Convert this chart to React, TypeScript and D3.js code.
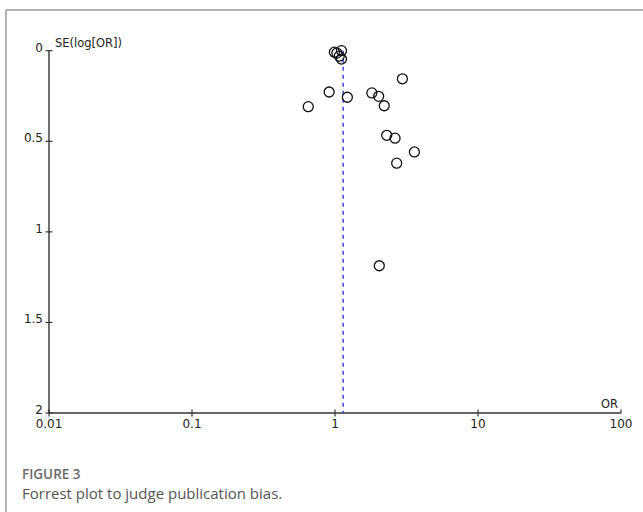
import React from "react";
import * as d3 from "d3";

const orValues = [1.11, 0.99, 1.03, 1.07, 1.11, 2.96, 0.91, 1.22, 1.81, 2.02, 0.65, 2.21, 2.3, 2.63, 3.59, 2.7, 2.04];
const seValues = [0.0, 0.008, 0.013, 0.03, 0.046, 0.155, 0.228, 0.257, 0.233, 0.252, 0.309, 0.304, 0.467, 0.483, 0.559, 0.621, 1.187];
const xTicks = [0.01, 0.1, 1, 10, 100];
const xTickLabels = ["0.01", "0.1", "1", "10", "100"];
const yTicks = [0, 0.5, 1, 1.5, 2];
const yTickLabels = ["0", "0.5", "1", "1.5", "2"];
const pooledOR = 1.14;

export default function App() {
  const W = 643, H = 512;
  const x = d3.scaleLog().domain([0.01, 100]).range([49, 621]);
  const y = d3.scaleLinear().domain([0, 2]).range([50.7, 413]);
  const axisColor = "#333";
  const font = "DejaVu Sans, sans-serif";
  return (
    <svg width={W} height={H} style={{ position: "absolute", left: 0, top: 0, background: "#fff" }}>
      <line x1={6} y1={10} x2={W} y2={10} stroke="#9a9a9a" strokeWidth={1.5} />
      <line x1={6} y1={10} x2={6} y2={H} stroke="#9a9a9a" strokeWidth={1.5} />
      {/* y axis */}
      <line x1={x(0.01)} y1={y(0)} x2={x(0.01)} y2={y(2)} stroke={axisColor} strokeWidth={1.4} />
      {yTicks.map((t, i) => (
        <g key={"y" + i}>
          <line x1={x(0.01) - 3.5} x2={x(0.01) + 3.5} y1={y(t)} y2={y(t)} stroke={axisColor} strokeWidth={1.2} />
          <text x={x(0.01) - 6} y={y(t) + 1} textAnchor="end" fontFamily={font} fontSize={12} fill="#222">
            {yTickLabels[i]}
          </text>
        </g>
      ))}
      {/* x axis */}
      <line x1={x(0.01)} y1={y(2)} x2={x(100)} y2={y(2)} stroke={axisColor} strokeWidth={1.4} />
      {xTicks.map((t, i) => (
        <g key={"x" + i}>
          <line x1={x(t)} x2={x(t)} y1={y(2) - 3.5} y2={y(2) + (i === xTicks.length - 1 ? 0 : 3.5)} stroke={axisColor} strokeWidth={1.2} />
          <text x={x(t)} y={y(2) + 15} textAnchor="middle" fontFamily={font} fontSize={12} fill="#222">
            {xTickLabels[i]}
          </text>
        </g>
      ))}
      <text x={618} y={y(2) - 5} textAnchor="end" fontFamily={font} fontSize={11.5} fill="#222">OR</text>
      <text x={55} y={y(0) - 4} fontFamily={font} fontSize={11.5} fill="#222">SE(log[OR])</text>
      {/* pooled line */}
      <line x1={x(pooledOR)} x2={x(pooledOR)} y1={y(0)} y2={y(2)} stroke="#2b2bd6" strokeWidth={1.3} strokeDasharray="4,4" />
      {orValues.map((v, i) => (
        <circle key={"c" + i} cx={x(v)} cy={y(seValues[i])} r={5} fill="none" stroke="#111" strokeWidth={1.3} />
      ))}
      <text x={22} y={479} fontFamily="Open Sans, sans-serif" fontWeight={600} fontSize={13.5} fill="#6b6b6b">FIGURE 3</text>
      <text x={22} y={499} fontFamily="Open Sans, sans-serif" fontSize={15} fill="#555">Forrest plot to judge publication bias.</text>
    </svg>
  );
}
